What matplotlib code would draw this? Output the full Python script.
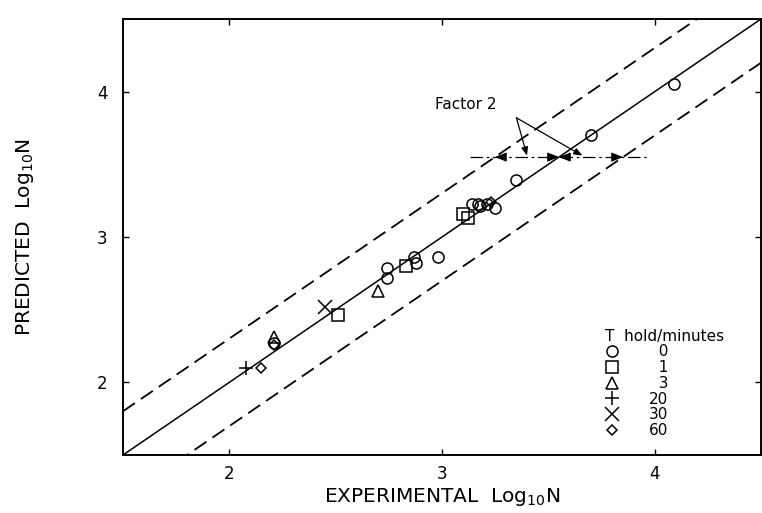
import matplotlib
matplotlib.use('Agg')
import matplotlib.pyplot as plt
import numpy as np

# experimental vs predicted log10 N, grouped by hold time (minutes)
hold_times = ['0', '1', '3', '20', '30', '60']
markers = ['o', 's', '^', '+', 'x', 'D']
marker_sizes = [8, 8, 8, 10, 10, 5.5]

exp_0 = [4.09, 3.70, 3.35, 3.14, 3.17, 3.18, 3.21, 3.25, 2.98, 2.87, 2.88, 2.74, 2.74, 2.21]
pred_0 = [4.05, 3.70, 3.39, 3.23, 3.23, 3.21, 3.23, 3.20, 2.86, 2.86, 2.82, 2.79, 2.72, 2.27]
exp_1 = [3.10, 3.12, 2.83, 2.51]
pred_1 = [3.16, 3.13, 2.80, 2.46]
exp_3 = [2.70, 2.21]
pred_3 = [2.63, 2.31]
exp_20 = [2.08]
pred_20 = [2.10]
exp_30 = [2.45]
pred_30 = [2.52]
exp_60 = [3.23, 2.21, 2.15]
pred_60 = [3.24, 2.26, 2.10]

experimental = [exp_0, exp_1, exp_3, exp_20, exp_30, exp_60]
predicted = [pred_0, pred_1, pred_3, pred_20, pred_30, pred_60]

lo, hi = 1.5, 4.5
factor2 = np.log10(2)
arrow_y = 3.55

fig = plt.figure(figsize=(7.62, 5.13), dpi=100)
ax = fig.add_axes([123 / 762, 58 / 513, 638 / 762, 436 / 513])

line = np.array([lo, hi])
ax.plot(line, line, color='black', lw=1.1)
ax.plot(line, line + factor2, color='black', lw=1.3, linestyle=(0, (8, 4)))
ax.plot(line, line - factor2, color='black', lw=1.3, linestyle=(0, (8, 4)))

for xs, ys, m, ms, lab in zip(experimental, predicted, markers, marker_sizes, hold_times):
    lab = lab if len(lab) == 2 else '\u2007' + lab
    ax.plot(xs, ys, linestyle='none', marker=m, markersize=ms, markerfacecolor='none',
            markeredgecolor='black', markeredgewidth=1.1, color='black', label=lab)

# "Factor 2" annotation
ax.plot([3.13, 3.98], [arrow_y, arrow_y], color='black', lw=0.9, linestyle=(0, (10, 3, 2, 3)))
tips = [(arrow_y - factor2, 1), (arrow_y, -1), (arrow_y, 1), (arrow_y + factor2, -1)]
for tx, d in tips:
    ax.annotate('', xy=(tx, arrow_y), xytext=(tx + d * 0.04, arrow_y),
                arrowprops=dict(arrowstyle='-|>,head_length=0.7,head_width=0.28',
                                color='black', lw=0.8, shrinkA=0, shrinkB=0))
ax.text(3.11, 3.91, 'Factor 2', fontsize=11, ha='center', va='center')
for end_x in [3.40, 3.66]:
    ax.annotate('', xy=(end_x, arrow_y + 0.01), xytext=(3.35, 3.82),
                arrowprops=dict(arrowstyle='-|>,head_length=0.5,head_width=0.2',
                                color='black', lw=0.9, shrinkA=0, shrinkB=0))

ax.set_xlim(lo, hi)
ax.set_ylim(lo, hi)
ax.set_xticks([2, 3, 4])
ax.set_yticks([2, 3, 4])
ax.tick_params(direction='in', length=4, width=1, top=True, right=True, labelsize=12, pad=7)
ax.tick_params(axis='y', pad=11)
for s in ax.spines.values():
    s.set_linewidth(1.4)

ax.set_xlabel('EXPERIMENTAL  Log$_{10}$N', fontsize=14.5, labelpad=2)
ax.set_ylabel('PREDICTED  Log$_{10}$N', fontsize=14.5, labelpad=44)

leg = ax.legend(loc='upper left', bbox_to_anchor=(0.755, 0.29), frameon=False,
                title='T  hold/minutes', alignment='left', fontsize=11, title_fontsize=11,
                handlelength=1.0, handletextpad=1.9, labelspacing=0.05, borderpad=0,
                borderaxespad=0)

fig.savefig('out.png', dpi=100)
